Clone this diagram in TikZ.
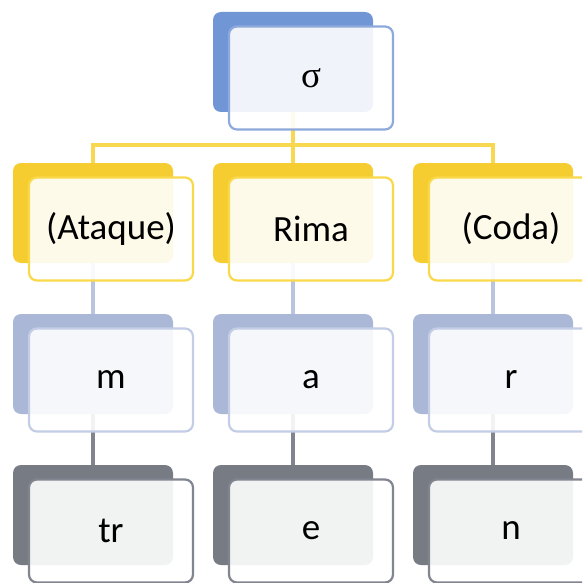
\documentclass[tikz,border=0pt]{standalone}
\usepackage{fontspec}
\setmainfont{Carlito}
\newfontfamily\sigfont{Liberation Serif}
\usetikzlibrary{backgrounds}
\definecolor{bkA}{HTML}{7096D6}
\definecolor{bdA}{HTML}{8EA9DB}
\definecolor{bkB}{HTML}{F5CD30}
\definecolor{bdB}{HTML}{F9D94A}
\definecolor{lnB}{HTML}{F8D850}
\definecolor{bkC}{HTML}{AAB7D6}
\definecolor{bdC}{HTML}{C3CDE5}
\definecolor{lnC}{HTML}{B8C4E0}
\definecolor{bkD}{HTML}{777B84}
\definecolor{bdD}{HTML}{80858F}
\definecolor{lnD}{HTML}{80848C}
\tikzset{
  backbox/.style={rectangle, rounded corners=8pt, minimum width=160pt, minimum height=100pt, inner sep=0pt, draw=none},
  frontbox/.style={rectangle, rounded corners=8pt, minimum width=164pt, minimum height=103pt, inner sep=0pt, line width=2.2pt, fill=white, fill opacity=0.9, text opacity=1, font=\fontsize{37}{40}\selectfont, text=black},
  conn/.style={line width=3.4pt},
}
\begin{document}
\begin{tikzpicture}[x=1pt,y=-1pt]
\useasboundingbox (0,0) rectangle (582,583);
\clip (0,0) rectangle (582,583);
% row 1
\node[backbox, fill=bkA] (b0) at (293,62) {};
\node[frontbox, draw=bdA] (f0) at (311,78) {\sigfont σ};
% row 2
\foreach \c/\t in {0/(Ataque),1/Rima,2/(Coda)}{
  \node[backbox, fill=bkB] (b2\c) at (93+200*\c,213) {};
  \node[frontbox, draw=bdB] (f2\c) at (111+200*\c,229) {\t};
}
% row 3
\foreach \c/\t in {0/m,1/a,2/r}{
  \node[backbox, fill=bkC] (b3\c) at (93+200*\c,364) {};
  \node[frontbox, draw=bdC] (f3\c) at (111+200*\c,380) {\t};
}
% row 4
\foreach \c/\t in {0/tr,1/e,2/n}{
  \node[backbox, fill=bkD] (b4\c) at (93+200*\c,515) {};
  \node[frontbox, draw=bdD] (f4\c) at (111+200*\c,531) {\t};
}
\coordinate (j) at (293,145);
\begin{scope}[on background layer]
  \draw[conn, lnB] (b0.south) -- (j);
  \draw[conn, lnB] (b20.north) |- (j) -| (b22.north);
  \draw[conn, lnB] (j) -- (b21.north);
  \foreach \c in {0,1,2}{
    \draw[conn, lnC] (b2\c.south) -- (b3\c.north);
    \draw[conn, lnD] (b3\c.south) -- (b4\c.north);
  }
\end{scope}
\end{tikzpicture}
\end{document}
